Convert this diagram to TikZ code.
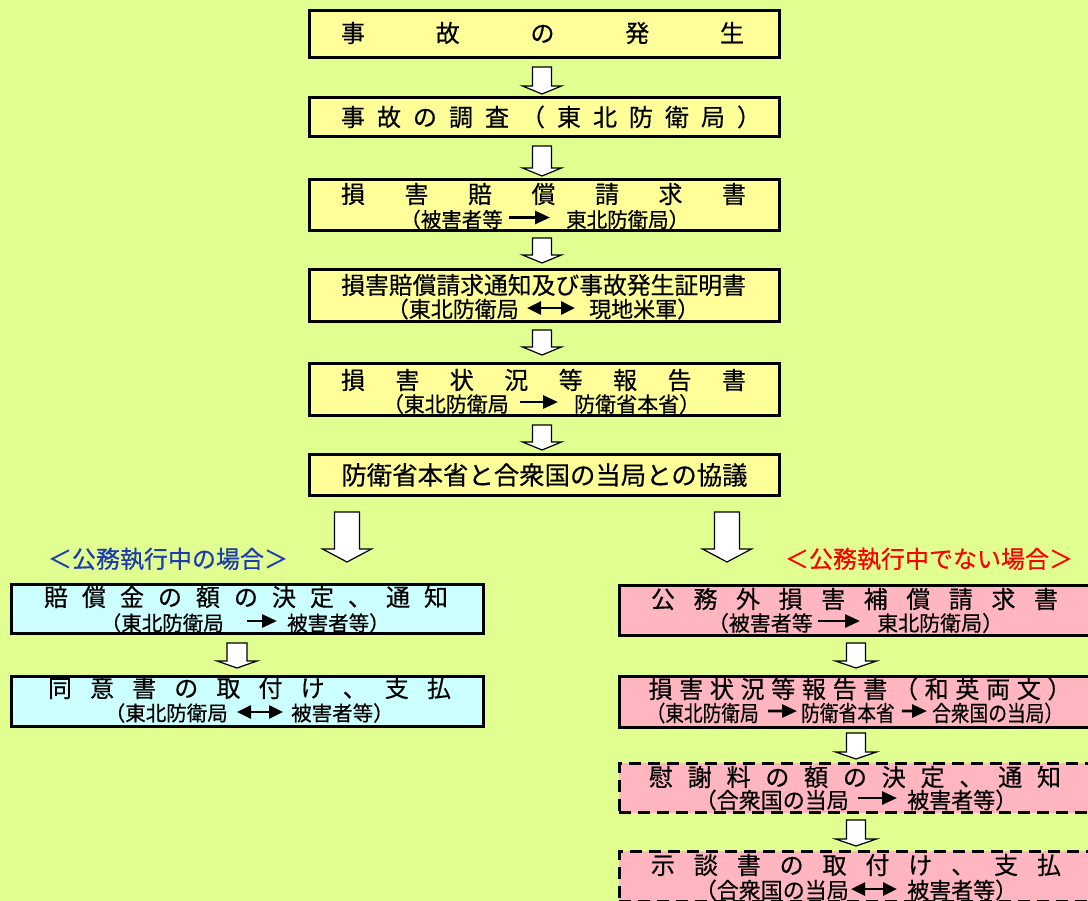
\documentclass[tikz,border=0pt]{standalone}
\usepackage{fontspec}
\usepackage{graphicx}
\newfontfamily\jp[FakeBold=0.5]{Noto Sans CJK JP}
\usetikzlibrary{arrows.meta,calc}
\definecolor{bg}{HTML}{E0FF90}
\definecolor{ylw}{HTML}{FFFF99}
\definecolor{cyn}{HTML}{CCFFFF}
\definecolor{pnk}{HTML}{FFB6C1}
\definecolor{lblue}{HTML}{1E3CB0}
\newcommand\spread[2]{\makebox[#1pt][s]{#2}}
\newcommand\fs[1]{\fontsize{#1}{#1}\selectfont}
\newcommand\hs[1]{\scalebox{0.85}[1]{#1}}
\tikzset{
  box/.style={draw=black, line width=2.6pt, inner sep=0pt},
  dbox/.style={box, dash pattern=on 12pt off 7pt},
  main/.style={font=\jp\fs{24}, inner sep=0pt, anchor=base},
  sub/.style={font=\jp\fs{#1}, inner sep=0pt},
  inarr/.style={line width=2.8pt, -{Triangle[length=15pt,width=13pt]}},
  inarrb/.style={line width=2.8pt, {Triangle[length=14pt,width=13pt]}-{Triangle[length=14pt,width=13pt]}},
  barrow/.style={fill=white, draw=black, line width=1.2pt, line join=miter},
  lbl/.style={font=\jp\fs{24}, inner sep=0pt},
}
% block arrow: from, to, x, top gap, tip gap, half shaft, half head, head length
\newcommand\barr[8]{%
  \draw[barrow] let \p1=(#1.south), \p2=(#2.north) in
    (#3pt-#6pt,\y1-#4pt) -- (#3pt+#6pt,\y1-#4pt) -- (#3pt+#6pt,\y2+#5pt+#8pt)
    -- (#3pt+#7pt,\y2+#5pt+#8pt) -- (#3pt,\y2+#5pt) -- (#3pt-#7pt,\y2+#5pt+#8pt)
    -- (#3pt-#6pt,\y2+#5pt+#8pt) -- cycle;}
\begin{document}
\begin{tikzpicture}[x=1pt,y=-1pt]
\useasboundingbox (0,0) rectangle (1088,901);
\fill[bg] (0,0) rectangle (1088,901);
\clip (0,0) rectangle (1088,901);

% ---- central column ----
\node[box, fill=ylw, minimum width=470.4pt, minimum height=47.4pt] (b1) at (544.5,34) {};
\node[box, fill=ylw, minimum width=470.4pt, minimum height=39.4pt] (b2) at (544.5,117) {};
\node[box, fill=ylw, minimum width=470.4pt, minimum height=51.4pt] (b3) at (544.5,205) {};
\node[box, fill=ylw, minimum width=470.4pt, minimum height=52.4pt] (b4) at (544.5,295.5) {};
\node[box, fill=ylw, minimum width=470.4pt, minimum height=52.4pt] (b5) at (544.5,389.5) {};
\node[box, fill=ylw, minimum width=470.4pt, minimum height=41.4pt] (b6) at (544.5,475) {};

\node[main] (b1t) at (542.5,33+9.1) {\spread{403}{事 故 の 発 生}};
\node[main] (b2t) at (551,117+9.1) {\spread{420}{事 故 の 調 査 （ 東 北 防 衛 局 ）}};
\node[main] (b3t) at (543.5,194+9.1) {\spread{405}{損 害 賠 償 請 求 書}};
\node[main, font=\jp\fs{23.8}] (b4t) at (543.5,285+9) {損害賠償請求通知及び事故発生証明書};
\node[main] (b5t) at (543.5,380+9.1) {\spread{405}{損 害 状 況 等 報 告 書}};
\node[main, font=\jp\fs{25.4}] (b6t) at (544.5,475+9.6) {防衛省本省と合衆国の当局との協議};

\node[sub=20.5, anchor=base east] (b3a) at (503,227.3) {（被害者等};
\node[sub=20.5, anchor=base west] (b3b) at (566,227.3) {東北防衛局）};
\draw[inarr] ([xshift=6pt,yshift=2pt]b3a.east) -- ([xshift=-16pt,yshift=2pt]b3b.west);

\node[sub=22, anchor=base east] (b4a) at (519,317.4) {（東北防衛局};
\node[sub=22, anchor=base west] (b4b) at (589,317.4) {現地米軍）};
\draw[inarrb] ([xshift=8pt,yshift=1pt]b4a.east) -- ([xshift=-14pt,yshift=1pt]b4b.west);

\node[sub=21, anchor=base east] (b5a) at (509,412) {（東北防衛局};
\node[sub=21, anchor=base west] (b5b) at (574,412) {防衛省本省）};
\draw[inarr] ([xshift=11pt,yshift=2pt]b5a.east) -- ([xshift=-16pt,yshift=2pt]b5b.west);

% ---- labels ----
\node[lbl, text=lblue] (lab1) at (168,559) {＜公務執行中の場合＞};
\node[lbl, text=red] (lab2) at (929,559) {＜公務執行中でない場合＞};

% ---- left column ----
\node[box, fill=cyn, minimum width=472.4pt, minimum height=49.4pt] (l1) at (247.5,609) {};
\node[box, fill=cyn, minimum width=472.4pt, minimum height=50.4pt] (l2) at (247.5,701.5) {};
\node[main] (l1t) at (246,597+9.1) {\spread{404}{賠 償 金 の 額 の 決 定 、 通 知}};
\node[main] (l2t) at (249.5,688+9.1) {\spread{403}{同 意 書 の 取 付 け 、 支 払}};

\node[sub=20.5, anchor=base east] (l1a) at (224,630.8) {（東北防衛局};
\node[sub=20.5, anchor=base west] (l1b) at (287,630.8) {被害者等）};
\draw[inarr] ([xshift=23pt,yshift=2pt]l1a.east) -- ([xshift=-10pt,yshift=2pt]l1b.west);

\node[sub=20.5, anchor=base east] (l2a) at (228,720.8) {（東北防衛局};
\node[sub=20.5, anchor=base west] (l2b) at (291,720.8) {被害者等）};
\draw[inarrb] ([xshift=9pt,yshift=1pt]l2a.east) -- ([xshift=-8pt,yshift=1pt]l2b.west);

% ---- right column ----
\node[box, fill=pnk, minimum width=470.4pt, minimum height=50.4pt] (r1) at (854.5,610.5) {};
\node[box, fill=pnk, minimum width=470.4pt, minimum height=51.4pt] (r2) at (854.5,702) {};
\node[dbox, fill=pnk, minimum width=470.4pt, minimum height=49.4pt] (r3) at (854.5,788) {};
\node[dbox, fill=pnk, minimum width=470.4pt, minimum height=50.4pt] (r4) at (854.5,876.5) {};

\node[main] (r1t) at (854.5,599+9.1) {\spread{407}{公 務 外 損 害 補 償 請 求 書}};
\node[main] (r2t) at (860,689+9.1) {\spread{423}{損 害 状 況 等 報 告 書 （ 和 英 両 文 ）}};
\node[main] (r3t) at (855,777+9.1) {\spread{412}{慰 謝 料 の 額 の 決 定 、 通 知}};
\node[main] (r4t) at (856,865+9.1) {\spread{410}{示 談 書 の 取 付 け 、 支 払}};

\node[sub=21, anchor=base east] (r1a) at (813,631) {（被害者等};
\node[sub=21, anchor=base west] (r1b) at (877,631) {東北防衛局）};
\draw[inarr] ([xshift=5pt,yshift=2pt]r1a.east) -- ([xshift=-17pt,yshift=2pt]r1b.west);

\node[sub=22, anchor=base east] (r2a) at (759,721.4) {\hs{（東北防衛局}};
\node[sub=22, anchor=base west] (r2b) at (801,721.4) {\hs{防衛省本省}};
\node[sub=22, anchor=base west] (r2c) at (932,721.4) {\hs{合衆国の当局）}};
\draw[inarr] ([xshift=9pt,yshift=2pt]r2a.east) -- ([xshift=-4pt,yshift=2pt]r2b.west);
\draw[inarr] ([xshift=7pt,yshift=2pt]r2b.east) -- ([xshift=-5pt,yshift=2pt]r2c.west);

\node[sub=22, anchor=base east] (r3a) at (849,808.4) {（合衆国の当局};
\node[sub=22, anchor=base west] (r3b) at (907,808.4) {被害者等）};
\draw[inarr] ([xshift=9pt,yshift=2pt]r3a.east) -- ([xshift=-10pt,yshift=2pt]r3b.west);

\node[sub=22, anchor=base east] (r4a) at (849,898.4) {（合衆国の当局};
\node[sub=22, anchor=base west] (r4b) at (907,898.4) {被害者等）};
\draw[inarrb] ([xshift=2pt,yshift=1pt]r4a.east) -- ([xshift=-10pt,yshift=1pt]r4b.west);

% ---- block arrows ----
\barr{b1}{b2}{542}{8}{2}{9.5}{19.5}{8}
\barr{b2}{b3}{542}{8}{2}{9.5}{19.5}{8}
\barr{b3}{b4}{542}{6}{5}{9.5}{19.5}{8}
\barr{b4}{b5}{542}{7}{7}{9.5}{19.5}{8}
\barr{b5}{b6}{542}{8}{3}{9.5}{19.5}{8}
\barr{b6}{l1}{347}{15}{21}{12.5}{24.5}{13}
\barr{b6}{r1}{727}{15}{22}{12.5}{24.5}{13}
\barr{l1}{l2}{237}{8}{7}{10}{20}{7}
\barr{r1}{r2}{856}{6}{7}{9.5}{20.5}{7}
\barr{r2}{r3}{856}{4}{3}{9.5}{20.5}{7}
\barr{r3}{r4}{856}{6}{4}{9.5}{20.5}{7}
\end{tikzpicture}
\end{document}
